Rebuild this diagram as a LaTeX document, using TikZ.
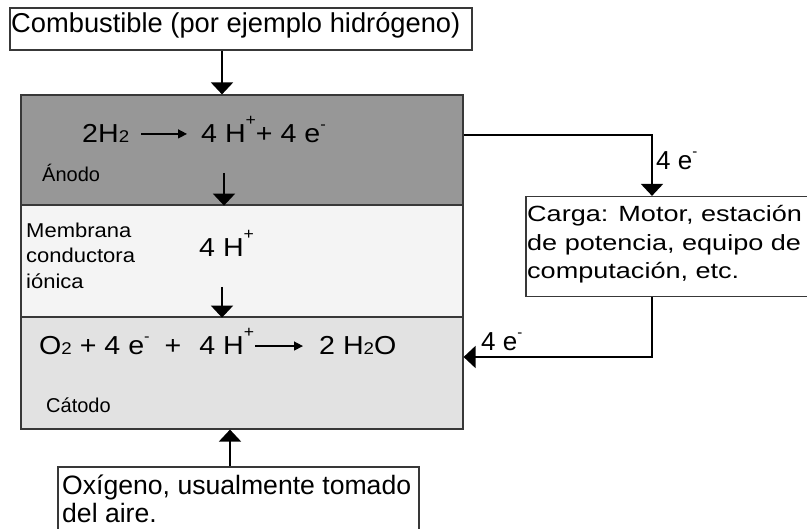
\documentclass[tikz,border=0pt]{standalone}
\usepackage{fontspec}
\setmainfont{Liberation Sans}
\newfontfamily\cargaf{Liberation Sans}[FakeStretch=1.23]
\newfontfamily\membf{Liberation Sans}[FakeStretch=1.1]
\newfontfamily\electf{Liberation Sans}[FakeStretch=1.0]
\newfontfamily\eqf{Liberation Sans}[FakeStretch=1.1]
\usetikzlibrary{arrows.meta}
\newcommand{\hsub}[1]{{\fontsize{17pt}{17pt}\selectfont #1}}
\newcommand{\hsupp}[1]{\raisebox{17pt}{\fontsize{16pt}{16pt}\selectfont #1}}
\newcommand{\hsupm}[1]{\raisebox{13pt}{\fontsize{15pt}{15pt}\selectfont #1}}
\definecolor{anodegray}{HTML}{979797}
\definecolor{membgray}{HTML}{F4F4F4}
\definecolor{cathgray}{HTML}{E2E2E2}
\definecolor{framegray}{HTML}{383838}
\tikzset{
  frame/.style={draw=framegray, line width=1.2pt, inner sep=0pt},
  conn/.style={line width=2pt, -{Triangle[length=12pt,width=22pt]}},
  eqarrow/.style={line width=1.4pt, -{Triangle[length=9pt,width=9pt]}},
  bigtxt/.style={anchor=base west, inner sep=0pt, font=\fontsize{27.3pt}{30pt}\selectfont},
  oxytxt/.style={anchor=base west, inner sep=0pt, font=\fontsize{26.6pt}{30pt}\selectfont},
  eqtxt/.style={anchor=base west, inner sep=0pt, font=\eqf\fontsize{26pt}{30pt}\selectfont},
  lbltxt/.style={anchor=base west, inner sep=0pt, font=\fontsize{26pt}{30pt}\selectfont},
  cargatxt/.style={anchor=base west, inner sep=0pt, font=\cargaf\fontsize{22pt}{28pt}\selectfont},
  membtxt/.style={anchor=base west, inner sep=0pt, font=\membf\fontsize{20pt}{25pt}\selectfont},
  electtxt/.style={anchor=base west, inner sep=0pt, font=\electf\fontsize{20pt}{25pt}\selectfont},
}
\begin{document}
\begin{tikzpicture}[x=1pt,y=-1pt]
\useasboundingbox (0,0) rectangle (807,529);
\clip (0,0) rectangle (807,529);
\fill[white] (0,0) rectangle (807,529);

% boxes
\node[frame, fill=white, minimum width=462pt, minimum height=42pt] (fuel) at (241,29) {};
\node[frame, fill=anodegray, minimum width=442pt, minimum height=110pt] (anode) at (242,150) {};
\node[frame, fill=membgray, minimum width=442pt, minimum height=112pt] (membrane) at (242,261) {};
\node[frame, fill=cathgray, minimum width=442pt, minimum height=112pt] (cathode) at (242,373) {};
\node[frame, fill=white, minimum width=304pt, minimum height=100pt] (load) at (678,246.5) {};
\node[frame, fill=white, minimum width=361pt, minimum height=80pt] (oxy) at (238.5,507) {};

% texts
\node[bigtxt] (fueltxt) at (11,33) {Combustible (por ejemplo hidrógeno)};
\node[eqtxt] (a1) at (82,143) {2H\hsub{2}};
\node[eqtxt] (a2) at (201,143) {4 H\hsupp{+}+ 4 e\hsupm{-}};
\node[electtxt] (anodolbl) at (42,182) {Ánodo};
\node[membtxt] (m1) at (26,238) {Membrana};
\node[membtxt] (m2) at (26,263) {conductora};
\node[membtxt] (m3) at (26,289) {iónica};
\node[eqtxt] (mh) at (199,257) {4 H\hsupp{+}};
\node[eqtxt] (c1) at (39,355) {O\hsub{2} + 4 e\hsupm{-}\hspace{7pt} +\hspace{10pt} 4 H\hsupp{+}};
\node[eqtxt] (c2) at (319,355) {2 H\hsub{2}O};
\node[electtxt] (catodolbl) at (46,413) {Cátodo};
\node[cargatxt] (l1) at (527,222) {Carga: Motor, estación};
\node[cargatxt] (l2) at (527,251) {de potencia, equipo de};
\node[cargatxt] (l3) at (527,279) {computación, etc.};
\node[oxytxt] (o1) at (62,495) {Oxígeno, usualmente tomado};
\node[oxytxt] (o2) at (62,523) {del aire.};
\node[lbltxt] (e1lbl) at (656,170) {4 e\hsupm{-}};
\node[lbltxt] (e2lbl) at (481,351) {4 e\hsupm{-}};

% equation arrows
\draw[eqarrow] ([xshift=12pt]a1.east) -- ([xshift=-14pt]a1.east -| a2.west);
\draw[eqarrow] (c1.east |- c2.west) ++(1pt,0) -- ([xshift=-16pt]c2.west);

% flow connectors
\coordinate (fx) at (222,0);
\coordinate (h1) at (224,173);
\coordinate (h2) at (222,287);
\coordinate (ox) at (230,0);
\coordinate (r1) at (652,135);
\coordinate (r2) at (652,357);
\draw[conn] (fuel.south -| fx) -- (anode.north -| fx);
\draw[conn] (h1) -- (anode.south -| h1);
\draw[conn] (h2) -- (membrane.south -| h2);
\draw[conn] (oxy.north -| ox) -- (cathode.south -| ox);
\draw[conn] (anode.east |- r1) -- (r1) -- (load.north -| r1);
\draw[conn] (load.south -| r2) -- (r2) -- (cathode.east |- r2);
\end{tikzpicture}
\end{document}
